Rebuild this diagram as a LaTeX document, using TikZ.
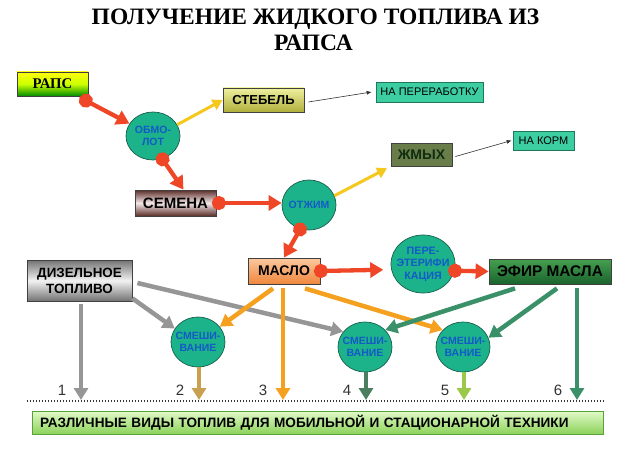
\documentclass[tikz,border=0pt]{standalone}
\usepackage{fontspec}
\setmainfont{Liberation Sans}
\newfontfamily\serifb{Liberation Serif}
\usetikzlibrary{arrows.meta,shapes.geometric,calc}
\definecolor{myred}{RGB}{238,70,38}
\definecolor{myyel}{RGB}{245,200,30}
\definecolor{mygray}{RGB}{150,150,150}
\definecolor{myorange}{RGB}{245,160,30}
\definecolor{mygreen}{RGB}{58,145,105}
\definecolor{circf}{RGB}{28,178,138}
\definecolor{circb}{RGB}{25,95,75}
\definecolor{circt}{RGB}{20,90,200}
\definecolor{naf}{RGB}{60,205,160}
\definecolor{nab}{RGB}{30,120,90}
\tikzset{
  box/.style={draw=black!75, line width=0.8pt, inner sep=0pt, align=center, font=\bfseries\fontsize{13}{15}\selectfont},
  circ/.style={ellipse, draw=circb, line width=0.7pt, fill=circf, inner sep=-6pt, minimum width=54pt, minimum height=50pt, align=center, text=circt, font=\bfseries\fontsize{10.5}{12}\selectfont},
  nabox/.style={draw=nab, line width=0.7pt, fill=naf, inner sep=0pt, font=\fontsize{11}{13}\selectfont},
  redarr/.style={draw=myred, line width=4.3pt, {Circle[length=14pt]}-{Triangle[length=13pt,width=15pt]}, shorten <=-6.5pt},
  yelarr/.style={draw=myyel, line width=3pt, -{Triangle[length=10pt,width=11pt]}},
  thinarr/.style={draw=black!80, line width=0.6pt, -{Latex[length=5pt,width=4pt]}},
  tharr/.style={line width=4.5pt, -{Triangle[length=12pt,width=14pt]}},
  num/.style={font=\fontsize{15}{17}\selectfont, text=black!80}
}
\begin{document}
\begin{tikzpicture}[x=1pt,y=-1pt]
\useasboundingbox[fill=white] (0,0) rectangle (624,468);
% title
\node[font=\serifb\bfseries\fontsize{23.5}{27}\selectfont, anchor=base] (t1) at (315.5,25) {ПОЛУЧЕНИЕ ЖИДКОГО ТОПЛИВА ИЗ};
\node[font=\serifb\bfseries\fontsize{23.5}{27}\selectfont, anchor=base] (t2) at (313.5,51) {РАПСА};
% boxes
\node[box, minimum width=71pt, minimum height=24pt, top color=yellow!95!white, bottom color=green!55!black, middle color=yellow!80!green, font=\serifb\bfseries\fontsize{14.8}{16}\selectfont] (raps) at (52.5,84) {РАПС};
\node[box, minimum width=81pt, minimum height=24pt, top color={rgb,255:red,240;green,240;blue,160}, bottom color={rgb,255:red,175;green,175;blue,60}] (steb) at (263.5,100) {СТЕБЕЛЬ};
\node[box, minimum width=81pt, minimum height=26pt, top color={rgb,255:red,90;green,45;blue,40}, bottom color={rgb,255:red,90;green,45;blue,40}, middle color={rgb,255:red,245;green,232;blue,232}, font=\bfseries\fontsize{15}{17}\selectfont] (sem) at (175.5,203) {СЕМЕНА};
\node[box, minimum width=61pt, minimum height=23pt, fill={rgb,255:red,105;green,125;blue,75}, text={rgb,255:red,15;green,45;blue,15}, font=\bfseries\fontsize{14}{16}\selectfont] (zh) at (421.5,154.5) {ЖМЫХ};
\node[nabox, minimum width=107pt, minimum height=20pt] (napr) at (429.5,92) {НА ПЕРЕРАБОТКУ};
\node[nabox, minimum width=61pt, minimum height=19pt] (nak) at (543.5,140.5) {НА КОРМ};
\node[box, minimum width=72pt, minimum height=26pt, top color={rgb,255:red,252;green,200;blue,160}, bottom color={rgb,255:red,240;green,135;blue,60}, font=\bfseries\fontsize{14}{16}\selectfont] (mas) at (284,271) {МАСЛО};
\node[box, minimum width=122pt, minimum height=25pt, top color={rgb,255:red,70;green,160;blue,80}, bottom color={rgb,255:red,25;green,100;blue,45}, font=\bfseries\fontsize{15.4}{17}\selectfont] (efir) at (550,271.5) {ЭФИР МАСЛА};
\node[box, minimum width=105pt, minimum height=41pt, top color=black!55, bottom color=black!55, middle color=black!5, font=\bfseries\fontsize{13.4}{16}\selectfont] (dz) at (79.5,280.5) {ДИЗЕЛЬНОЕ\\ТОПЛИВО};
% circles
\node[circ, minimum width=54pt, minimum height=48pt] (obm) at (153,136) {ОБМО-\\ЛОТ};
\node[circ] (otz) at (309,205) {ОТЖИМ};
\node[circ, minimum width=64pt, minimum height=58pt, inner sep=-9pt, font=\bfseries\fontsize{10.7}{12.5}\selectfont] (pere) at (423,264) {ПЕРЕ-\\ЭТЕРИФИ\\КАЦИЯ};
\node[circ] (s1) at (198,342) {СМЕШИ-\\ВАНИЕ};
\node[circ] (s2) at (365,347) {СМЕШИ-\\ВАНИЕ};
\node[circ] (s3) at (463,347) {СМЕШИ-\\ВАНИЕ};
% bottom bar
\node[draw={rgb,255:red,90;green,160;blue,60}, line width=0.8pt, top color={rgb,255:red,225;green,250;blue,200}, bottom color={rgb,255:red,140;green,210;blue,90}, minimum width=571pt, minimum height=23pt, inner xsep=8pt, inner ysep=0pt, text width=555pt, align=left, font=\bfseries\fontsize{13.6}{15}\selectfont] (bot) at (317.5,422.5) {РАЗЛИЧНЫЕ ВИДЫ ТОПЛИВ ДЛЯ МОБИЛЬНОЙ И СТАЦИОНАРНОЙ ТЕХНИКИ};
% baseline coordinates
\coordinate (b1) at (81,400);
\coordinate (b2) at (199,400);
\coordinate (b3) at (283,400);
\coordinate (b4) at (366,400);
\coordinate (b5) at (464,400);
\coordinate (b6) at (577,400);
\coordinate (dl) at (27,401);
\coordinate (dr) at (605,401);
\draw[black!80, line width=1.3pt, dash pattern=on 1.3pt off 1.7pt] (dl) -- (dr);
% numbers
\node[num] (n1) at (62,390) {1};
\node[num] (n2) at (180,390) {2};
\node[num] (n3) at (263,390) {3};
\node[num] (n4) at (347,390) {4};
\node[num] (n5) at (445,390) {5};
\node[num] (n6) at (558,390) {6};
% gray arrows
\draw[tharr, draw=mygray] ([xshift=1.5pt,yshift=-3pt]dz.south) -- (b1);
\draw[tharr, draw=mygray] ([yshift=3pt]dz.south east) -- (s1.150);
\draw[tharr, draw=mygray] ([xshift=5pt,yshift=-2.5pt]dz.east) -- (s2.145);
% orange arrows
\draw[tharr, draw=myorange] ([xshift=-11pt,yshift=-4pt]mas.south) -- (s1.35);
\draw[tharr, draw=myorange] ([xshift=-1pt,yshift=-4pt]mas.south) -- (b3);
\draw[tharr, draw=myorange] ([xshift=21pt,yshift=-4pt]mas.south) -- (s3.140);
% green arrows
\draw[tharr, draw=mygreen] ([xshift=-35pt,yshift=-4pt]efir.south) -- (s2.40);
\draw[tharr, draw=mygreen] ([xshift=7pt,yshift=-4pt]efir.south) -- (s3.20);
\draw[tharr, draw=mygreen] ([xshift=27pt,yshift=-4pt]efir.south) -- (b6);
% circle down arrows
\draw[tharr, draw={rgb,255:red,200;green,160;blue,80}] ([xshift=1pt]s1.south) -- (b2);
\draw[tharr, draw={rgb,255:red,75;green,125;blue,95}] ([xshift=1pt]s2.south) -- (b4);
\draw[tharr, draw={rgb,255:red,155;green,200;blue,75}] ([xshift=1pt]s3.south) -- (b5);
% yellow arrows
\draw[yelarr] (obm.25) -- (steb.west);
\draw[yelarr, shorten >=4pt] (otz.20) -- (zh.south west);
% thin arrows
\draw[thinarr] ([xshift=4pt,yshift=-2pt]steb.east) -- ([xshift=-4pt]napr.west);
\draw[thinarr] ([xshift=3pt,yshift=-2pt]zh.east) -- ([xshift=-1pt]nak.west);
% red arrows
\draw[redarr] ([xshift=-3pt,yshift=-4pt]raps.south east) -- (obm);
\draw[redarr] (obm.-68) -- ([xshift=8pt]sem.north);
\draw[redarr] ([xshift=2pt]sem.east) -- (sem.east -| otz.west);
\draw[redarr] (otz.-110) -- (mas.north);
\draw[redarr, shorten >=8pt] (mas.east) -- (pere.190);
\draw[redarr] (pere.-12) -- (efir.west);
\end{tikzpicture}
\end{document}
